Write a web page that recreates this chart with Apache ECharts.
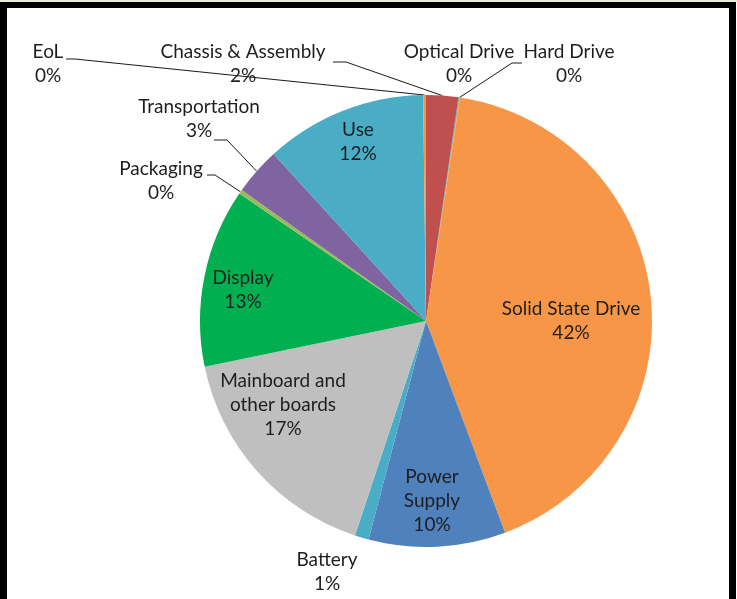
<!DOCTYPE html>
<html>
<head>
<meta charset="utf-8">
<style>
  html, body { margin: 0; padding: 0; background: #ffffff; }
  #chart { width: 737px; height: 599px; }
</style>
<script src="https://cdn.jsdelivr.net/npm/echarts@6/dist/echarts.min.js"></script>
</head>
<body>
<div id="chart"></div>
<script>
// ---- data ----
const categories = ['Chassis & Assembly', 'Optical Drive', 'Hard Drive', 'Solid State Drive', 'Power Supply', 'Battery', 'Mainboard and other boards', 'Display', 'Packaging', 'Transportation', 'Use', 'EoL'];
const labelTexts = ['Chassis & Assembly', 'Optical Drive', 'Hard Drive', 'Solid State Drive', 'Power\nSupply', 'Battery', 'Mainboard and\nother boards', 'Display', 'Packaging', 'Transportation', 'Use', 'EoL'];
const shares = [2.3, 0.05, 0.05, 42.0, 9.8, 1.0, 16.7, 12.8, 0.3, 3.4, 11.6, 0.2];
const colors = ['#C0504D', '#4F81BD', '#9BBB59', '#F79646', '#4F81BD', '#4BACC6', '#BFBFBF', '#00B050', '#9BBB59', '#8064A2', '#4BACC6', '#F79646'];

// ---- layout (label placement, px) ----
const labelPos = [
  [243, 64], [459, 64], [569, 64], [571, 321], [432, 501], [327, 572],
  [283, 405], [243, 290], [161, 181], [199, 119], [358, 142], [48, 64]
];
// leader line bends: [elbow, end] or null
const leaderBends = [
  [[346, 62], [333, 62]],
  null,
  [[512, 63], [522, 63]],
  null, null, null, null, null,
  [[215, 175], [207, 175]],
  [[227, 140], [214, 140]],
  null,
  [[75, 59], [66, 59]]
];

const chart = echarts.init(document.getElementById('chart'), null, { renderer: 'canvas' });

const data = categories.map((c, i) => ({
  name: c,
  value: shares[i],
  itemStyle: { color: colors[i] },
  labelLine: { show: !!leaderBends[i] }
}));

chart.setOption({
  animation: false,
  backgroundColor: '#ffffff',
  graphic: [
    { type: 'rect', shape: { x: 0, y: 0, width: 737, height: 2 }, style: { fill: '#e4ecd4' } },
    { type: 'rect', shape: { x: 0, y: 2, width: 736, height: 6 }, style: { fill: '#000' } },
    { type: 'rect', shape: { x: 0, y: 2, width: 7, height: 597 }, style: { fill: '#000' } },
    { type: 'rect', shape: { x: 729, y: 2, width: 7, height: 597 }, style: { fill: '#000' } }
  ],
  series: [{
    type: 'pie',
    center: [426, 321],
    radius: 226,
    startAngle: 90,
    clockwise: true,
    avoidLabelOverlap: false,
    data: data,
    label: {
      show: true,
      position: 'outside',
      fontFamily: 'Lato',
      fontSize: 19,
      lineHeight: 24,
      color: '#1e1e1e',
      align: 'center',
      formatter: p => labelTexts[p.dataIndex] + '\n' + Math.round(p.percent) + '%'
    },
    labelLine: {
      show: true,
      lineStyle: { color: '#1a1a1a', width: 1 }
    },
    labelLayout: function (params) {
      const i = params.dataIndex;
      const res = {
        x: labelPos[i][0],
        y: labelPos[i][1],
        align: 'center',
        verticalAlign: 'middle'
      };
      const b = leaderBends[i];
      if (b && params.labelLinePoints) {
        res.labelLinePoints = [params.labelLinePoints[0], b[0], b[1]];
      }
      return res;
    }
  }]
});
</script>
</body>
</html>
